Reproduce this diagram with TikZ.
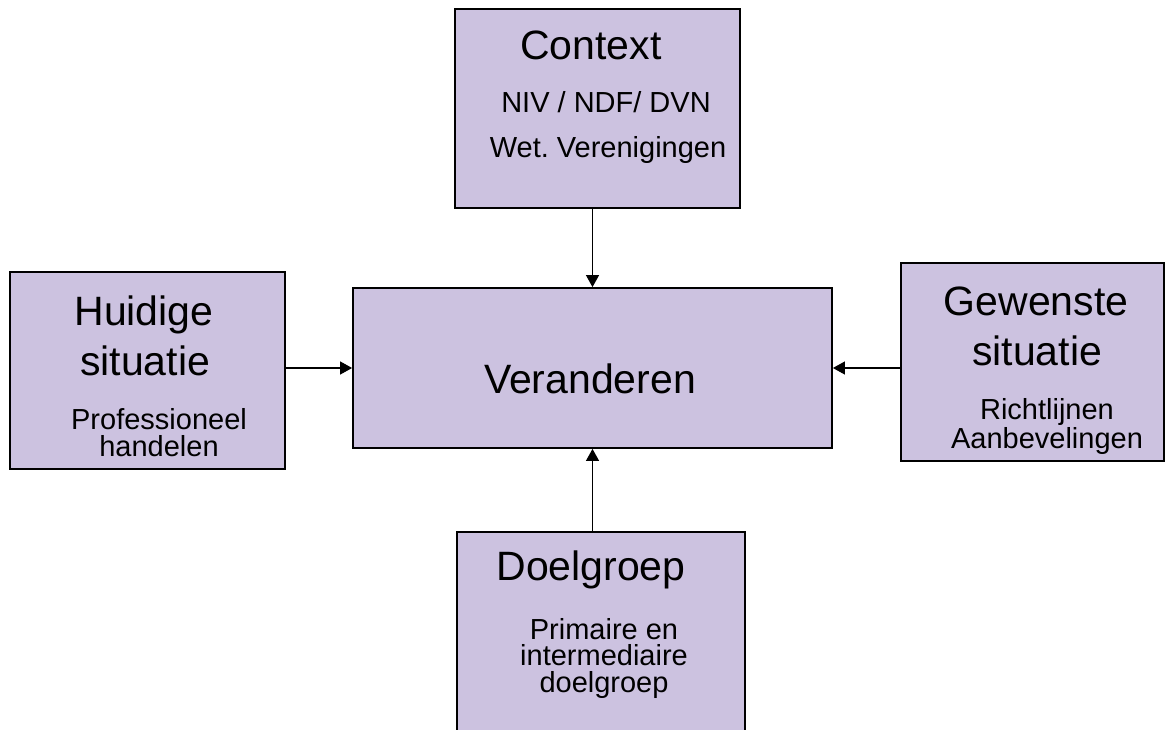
\documentclass[tikz,border=0pt]{standalone}
\usepackage{fontspec}
\setmainfont{Liberation Sans}
\usetikzlibrary{arrows.meta}
\definecolor{boxfill}{RGB}{204,194,224}
\begin{document}
\frenchspacing
\begin{tikzpicture}[x=1pt,y=-1pt,
  boxnode/.style={draw=black,line width=1.8pt,fill=boxfill,rectangle,inner sep=0pt,anchor=center},
  titletext/.style={anchor=base,inner sep=0pt,align=center,font=\fontsize{41}{50}\selectfont},
  subtext/.style={anchor=base,inner sep=0pt,align=center,font=\fontsize{29}{26.5}\selectfont},
  conn/.style={line width=1.1pt,-{Triangle[length=12pt,width=13pt]}}]
\useasboundingbox (0,0) rectangle (1166,730);
% boxes
\node[boxnode,minimum width=285pt,minimum height=199pt] (ctx) at (597.5,108.5) {};
\node[boxnode,minimum width=479pt,minimum height=160pt] (ver) at (592.5,368) {};
\node[boxnode,minimum width=275pt,minimum height=197pt] (hu) at (147.5,370.5) {};
\node[boxnode,minimum width=263pt,minimum height=198pt] (gw) at (1032.5,362) {};
\node[boxnode,minimum width=288pt,minimum height=230pt] (dg) at (601,647) {};
% texts
\node[titletext] (t1) at (591,60) {Context};
\node[subtext] (t2) at (606,113) {NIV / NDF/ DVN};
\node[subtext] (t3) at (608,158) {Wet. Verenigingen};
\node[titletext] (t4) at (590,393) {Veranderen};
\node[titletext] (t5) at (144,325) {Huidige};
\node[titletext] (t6) at (145,375) {situatie};
\node[subtext] (t7) at (159,456) {Professioneel\\handelen};
\node[titletext] (t9) at (1036,315) {Gewenste};
\node[titletext] (t10) at (1037,365) {situatie};
\node[subtext] (t11) at (1047,448) {Richtlijnen\\Aanbevelingen};
\node[titletext] (t13) at (591,580) {Doelgroep};
\node[subtext] (t14) at (604,692) {Primaire en\\intermediaire\\doelgroep};
% connectors
\draw[conn] (ctx.south -| ver.north) -- (ver.north);
\draw[conn] (dg.north -| ver.south) -- (ver.south);
\draw[conn] (hu.east |- ver.west) -- (ver.west);
\draw[conn] (gw.west |- ver.east) -- (ver.east);
\end{tikzpicture}
\end{document}
